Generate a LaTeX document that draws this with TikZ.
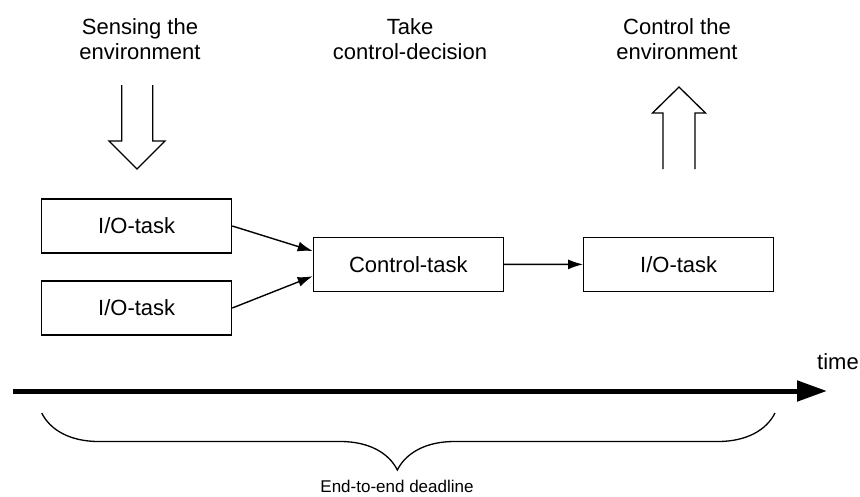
\documentclass[tikz,border=0pt]{standalone}
\usepackage{fontspec}
\setmainfont{Liberation Sans}
\usetikzlibrary{arrows.meta,decorations.pathreplacing}

\begin{document}
\begin{tikzpicture}[x=1pt,y=-1pt,
    every node/.style={font=\fontsize{22}{25}\selectfont},
    task/.style={draw,line width=1.2pt,minimum width=190pt,minimum height=54pt,inner sep=0pt},
    flow/.style={line width=1.4pt,-{Latex[length=15pt,width=10pt]}},
    hollow/.style={line width=1.3pt,line join=miter}]
    \useasboundingbox (0,0) rectangle (860,496);
        % labels on top
        \node[align=center] (sense) at (140,39) {Sensing the\\environment};
        \node[align=center] (decide) at (410,39) {Take\\control-decision};
        \node[align=center] (actuate) at (677,39) {Control the\\environment};
        % hollow arrows
		\draw[hollow] (121.7,85) -- (121.7,141) -- (109,141) -- (137,169) -- (165,141) -- (152.7,141) -- (152.7,85);
		\draw[hollow] (663,169) -- (663,113) -- (652.5,113) -- (679,87) -- (705.5,113) -- (695,113) -- (695,169);
        % tasks
        \node[task] (io1) at (136.7,226) {I/O-task};
        \node[task] (io2) at (136.7,308) {I/O-task};
        \node[task] (ctrl) at (408.3,264.5) {Control-task};
        \node[task] (io3) at (678.7,264.3) {I/O-task};
        \draw[flow] (io1.east) -- (ctrl.172.5);
        \draw[flow] (io2.east) -- (ctrl.187.5);
        \draw[flow] (ctrl) -- (io3);
        % time axis
        \coordinate (t0) at (13,391);
        \coordinate (t1) at (827,391);
        \draw[line width=5pt,-{Triangle[length=30pt,width=20pt]}] (t0) -- (t1);
        \node (timelbl) at (838,362) {time};
        % deadline brace
        \coordinate (b0) at (41.7,413);
        \coordinate (b1) at (775,413);
        \draw[line width=1.3pt,decorate,decoration={brace,mirror,amplitude=57pt,aspect=0.485}] (b0) -- (b1);
        \node[font=\fontsize{17}{20}\selectfont] (deadline) at (397,486) {End-to-end deadline};
	\end{tikzpicture}
\end{document}
